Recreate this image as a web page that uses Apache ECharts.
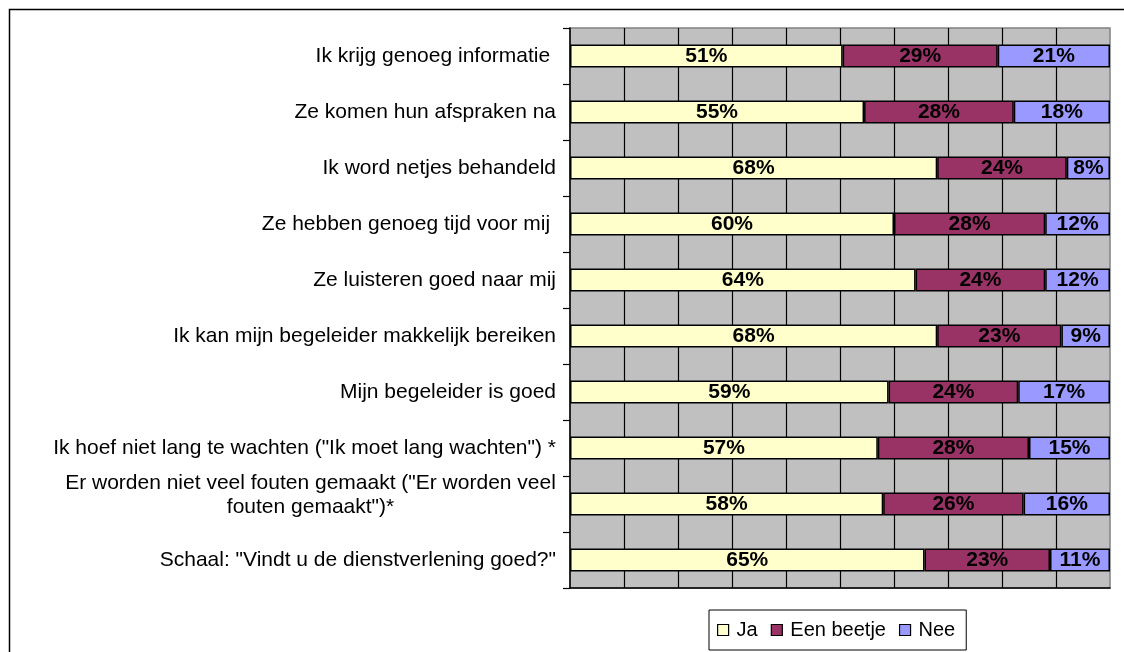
<!DOCTYPE html>
<html>
<head>
<meta charset="utf-8">
<script src="https://cdn.jsdelivr.net/npm/echarts@6/dist/echarts.min.js"></script>
<style>
  html, body { margin: 0; padding: 0; background: #fff; }
  #chart { width: 1124px; height: 652px; }
</style>
</head>
<body>
<div id="chart"></div>
<script>
// vragen (van boven naar beneden)
var categories = [
  "Ik krijg genoeg informatie ",
  "Ze komen hun afspraken na",
  "Ik word netjes behandeld",
  "Ze hebben genoeg tijd voor mij ",
  "Ze luisteren goed naar mij",
  "Ik kan mijn begeleider makkelijk bereiken",
  "Mijn begeleider is goed",
  "Ik hoef niet lang te wachten (\"Ik moet lang wachten\") *",
  "Er worden niet veel fouten gemaakt (\"Er worden veel\nfouten gemaakt\")*",
  "Schaal: \"Vindt u de dienstverlening goed?\""
];
var ja = [51, 55, 68, 60, 64, 68, 59, 57, 58, 65];
var beetje = [29, 28, 24, 28, 24, 23, 24, 28, 26, 23];
var nee = [21, 18, 8, 12, 12, 9, 17, 15, 16, 11];

var FONT = "'Liberation Sans', Arial, sans-serif";
var LABEL_SIZE = 21;

// 100% gestapeld, zoals in Excel
function share(arr) {
  return arr.map(function (v, i) {
    return v / (ja[i] + beetje[i] + nee[i]) * 100;
  });
}

// breedte van de langste regel, voor het gecentreerde tweeregelige label
var ctx = document.createElement("canvas").getContext("2d");
ctx.font = LABEL_SIZE + "px " + FONT;
var twoLineWidth = Math.ceil(ctx.measureText("Er worden niet veel fouten gemaakt (\"Er worden veel").width);

function makeSeries(name, arr, color) {
  return {
    name: name,
    type: "bar",
    stack: "total",
    barWidth: 23,
    data: share(arr),
    itemStyle: { color: color, borderColor: "#000", borderWidth: 1.5 },
    label: {
      show: true,
      position: "inside",
      color: "#000",
      fontWeight: "bold",
      fontSize: 21,
      fontFamily: FONT,
      formatter: function (p) {
        return arr[p.dataIndex] + "%";
      }
    }
  };
}

var chart = echarts.init(document.getElementById("chart"));
chart.setOption({
  backgroundColor: "#fff",
  animation: false,
  graphic: [
    {
      type: "rect",
      left: 7, top: 7,
      shape: { width: 1200, height: 700 },
      style: { fill: "none", stroke: "#000", lineWidth: 1.5 },
      silent: true
    }
  ],
  grid: {
    left: 570, top: 28, width: 540, height: 560,
    show: true,
    backgroundColor: "#c0c0c0",
    borderColor: "#808080",
    borderWidth: 1.5
  },
  legend: {
    left: 709,
    top: 610,
    padding: [10, 11, 10, 8],
    borderColor: "#000",
    borderWidth: 1,
    itemWidth: 11,
    itemHeight: 11,
    itemGap: 13,
    icon: "rect",
    itemStyle: { borderColor: "#000", borderWidth: 1.2 },
    textStyle: { fontSize: 20, fontFamily: FONT, color: "#000", padding: [0, 0, 0, 3] },
    data: ["Ja", "Een beetje", "Nee"]
  },
  xAxis: {
    type: "value",
    min: 0,
    max: 100,
    interval: 10,
    axisLabel: { show: false },
    axisTick: { show: false },
    axisLine: { show: true, lineStyle: { color: "#000", width: 1.5 } },
    splitLine: {
      show: true,
      showMinLine: false,
      showMaxLine: false,
      lineStyle: { color: "#000", width: 1.2 }
    }
  },
  yAxis: {
    type: "category",
    inverse: true,
    data: categories,
    axisLine: { show: true, lineStyle: { color: "#000", width: 1.5 } },
    axisTick: { show: true, length: 7, lineStyle: { color: "#000", width: 1.2 } },
    axisLabel: {
      color: "#000",
      fontSize: LABEL_SIZE,
      fontFamily: FONT,
      margin: 14,
      formatter: function (val) {
        if (val.indexOf("\n") < 0) return val;
        // twee regels, onderling gecentreerd en iets omhoog geschoven
        return val.split("\n").map(function (l) {
          return "{c|" + l + "}";
        }).join("\n") + "\n{e|}";
      },
      rich: {
        c: {
          fontSize: LABEL_SIZE,
          fontFamily: FONT,
          color: "#000",
          lineHeight: 24,
          width: twoLineWidth,
          align: "center"
        },
        e: { lineHeight: 18, fontSize: 1 }
      }
    }
  },
  series: [
    makeSeries("Ja", ja, "#ffffcc"),
    makeSeries("Een beetje", beetje, "#993366"),
    makeSeries("Nee", nee, "#9999ff")
  ]
});
</script>
</body>
</html>
